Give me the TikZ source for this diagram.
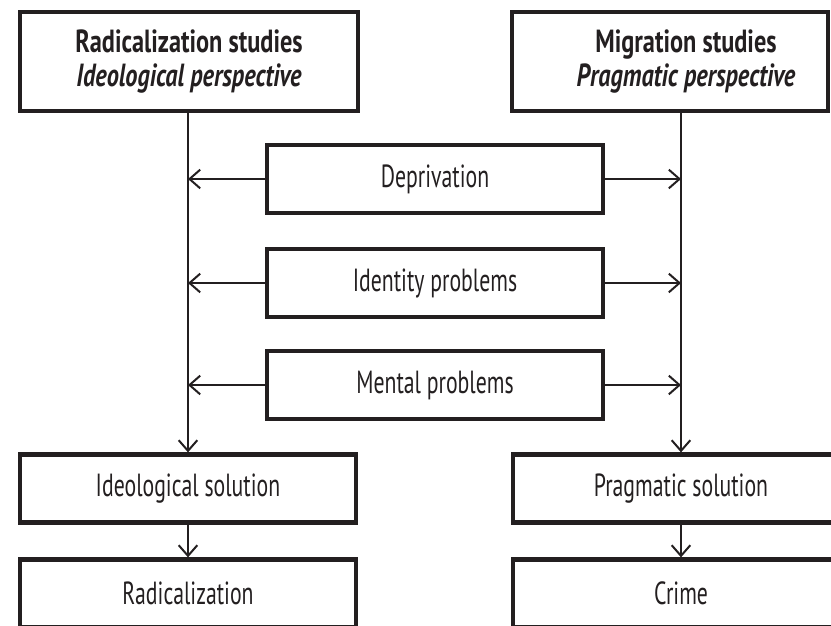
\documentclass[tikz,border=0pt]{standalone}
\usepackage{fontspec}
\setmainfont{PT Sans}[FakeStretch=0.68,
	BoldFeatures={FakeStretch=0.76},
	BoldItalicFeatures={FakeStretch=0.76}]
\usetikzlibrary{arrows.meta}
\definecolor{inkgray}{HTML}{231F20}

\begin{document}
\begin{tikzpicture}[x = 0.75pt, y = -0.75pt,
	box/.style = {draw = inkgray,
				  line width = 3.2pt,
				  shape = rectangle,
				  inner sep = 0pt,
				  text = inkgray,
				  font = \fontsize{24}{26}\selectfont},
	headbox/.style = {box,
					  minimum height = 74.25pt,
					  align = center},
	midbox/.style = {box,
					 minimum width = 252pt,
					 minimum height = 51pt},
	linkline/.style = {draw = inkgray,
					   line width = 1.5pt,
					   -{Straight Barb[length = 8pt, width = 14pt]}}]
	\useasboundingbox (0, 0) rectangle (831, 625);
	\clip (0, 0) rectangle (831, 625);

	\draw (189, 61.5) node[headbox,
						   minimum width = 253.5pt
				   ](radstudies){\textbf{Radicalization studies}\\
								 \textbf{\textit{Ideological perspective}}};
	\draw (670, 61.5) node[headbox,
						   minimum width = 237pt
				   ](migstudies){\hspace*{24pt}\textbf{Migration studies}\\
								 \hspace*{24pt}\textbf{\textit{Pragmatic perspective}}};

	\draw (435, 179) node[midbox](depriv){Deprivation};
	\draw (435, 283) node[midbox](identity){Identity problems};
	\draw (435, 385) node[midbox](mental){Mental problems};

	\draw (188, 488.5) node[midbox](ideosol){Ideological solution};
	\draw (681, 488.5) node[midbox](pragsol){Pragmatic solution};
	\draw (188, 593.5) node[midbox](radical){Radicalization};
	\draw (681, 593.5) node[midbox](crime){Crime};

	\draw[linkline] (radstudies.south -| ideosol.north) -- (ideosol.north);
	\draw[linkline] (migstudies.south -| pragsol.north) -- (pragsol.north);

	\draw[linkline] (depriv.west) -- (depriv.west -| ideosol.north);
	\draw[linkline] (identity.west) -- (identity.west -| ideosol.north);
	\draw[linkline] (mental.west) -- (mental.west -| ideosol.north);

	\draw[linkline] (depriv.east) -- (depriv.east -| pragsol.north);
	\draw[linkline] (identity.east) -- (identity.east -| pragsol.north);
	\draw[linkline] (mental.east) -- (mental.east -| pragsol.north);

	\draw[linkline] (ideosol.south) -- (radical.north);
	\draw[linkline] (pragsol.south) -- (crime.north);
\end{tikzpicture}
\end{document}
